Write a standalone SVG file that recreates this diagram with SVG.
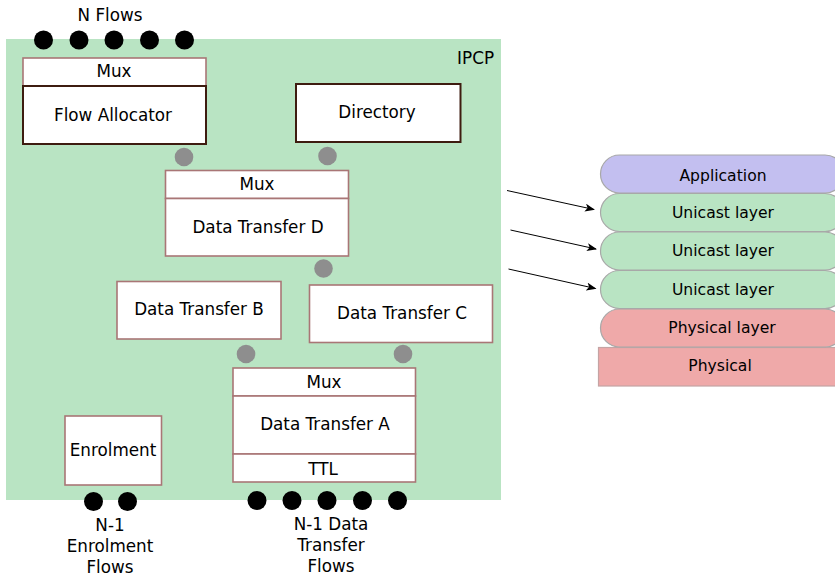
<svg xmlns="http://www.w3.org/2000/svg" width="835" height="577" viewBox="0 0 835 577">
<defs>
<style>
text{font-family:"DejaVu Sans","Liberation Sans",sans-serif;font-size:16.8px;fill:#000;text-anchor:middle}
.sm{font-size:15.6px}
.box{fill:#fff;stroke:#a97676;stroke-width:1.6}
.dark{fill:#fff;stroke:#3e1c10;stroke-width:2}
.port{fill:#8e8e8e}
.flow{fill:#000}
.pill{stroke:#a8a8a8;stroke-width:1.2}
.conn{stroke:#000;stroke-width:1;fill:none;marker-end:url(#ah)}
</style>
<marker id="ah" viewBox="0 0 10 8" refX="9" refY="4" markerWidth="10" markerHeight="8" markerUnits="userSpaceOnUse" orient="auto">
<path d="M0,0 L10,4 L0,8 L2.5,4 Z" fill="#000"/>
</marker>
</defs>
<rect id="ipcp" x="6" y="39" width="495" height="461" fill="#b9e4c3"/>
<text x="494" y="63.5" style="text-anchor:end">IPCP</text>

<g id="n-flows">
<text x="110" y="21">N Flows</text>
<circle class="flow" cx="43.5" cy="40" r="9.5"/>
<circle class="flow" cx="79" cy="40" r="9.5"/>
<circle class="flow" cx="114" cy="40" r="9.5"/>
<circle class="flow" cx="149.5" cy="40" r="9.5"/>
<circle class="flow" cx="184.5" cy="40" r="9.5"/>
</g>

<g id="flow-allocator">
<rect class="box" x="23" y="58" width="183" height="28"/>
<text x="114" y="77">Mux</text>
<rect class="dark" x="23" y="86" width="183" height="58"/>
<text x="113" y="121">Flow Allocator</text>
</g>

<g id="directory">
<rect class="dark" x="296" y="84" width="164.5" height="58"/>
<text x="377" y="118">Directory</text>
</g>

<g id="data-transfer-d">
<rect class="box" x="165.5" y="170.5" width="183" height="28"/>
<text x="257" y="190">Mux</text>
<rect class="box" x="165.5" y="198.5" width="183" height="57.5"/>
<text x="258" y="233">Data Transfer D</text>
</g>

<g id="data-transfer-b">
<rect class="box" x="117" y="281.5" width="164" height="57.5"/>
<text x="199" y="315">Data Transfer B</text>
</g>

<g id="data-transfer-c">
<rect class="box" x="309.5" y="285" width="183" height="57.5"/>
<text x="402" y="319">Data Transfer C</text>
</g>

<g id="data-transfer-a">
<rect class="box" x="233" y="368" width="182.5" height="28"/>
<text x="324" y="387.5">Mux</text>
<rect class="box" x="233" y="396" width="182.5" height="58"/>
<text x="325" y="430">Data Transfer A</text>
<rect class="box" x="233" y="454" width="182.5" height="28"/>
<text x="323" y="475">TTL</text>
</g>

<g id="enrolment">
<rect class="box" x="65" y="416" width="96.5" height="69"/>
<text x="113" y="456">Enrolment</text>
</g>

<g id="ports">
<circle class="port" cx="184" cy="157" r="9.3"/>
<circle class="port" cx="327.5" cy="156" r="9.3"/>
<circle class="port" cx="323.5" cy="268.5" r="9.3"/>
<circle class="port" cx="246" cy="354" r="9.3"/>
<circle class="port" cx="403" cy="354" r="9.3"/>
</g>

<g id="n-1-enrolment-flows">
<circle class="flow" cx="93.5" cy="501.5" r="9.5"/>
<circle class="flow" cx="127.5" cy="501.5" r="9.5"/>
<text x="110" y="531">N-1</text>
<text x="110" y="552">Enrolment</text>
<text x="110" y="573">Flows</text>
</g>

<g id="n-1-data-transfer-flows">
<circle class="flow" cx="257" cy="500.5" r="9.5"/>
<circle class="flow" cx="292" cy="500.5" r="9.5"/>
<circle class="flow" cx="327" cy="500.5" r="9.5"/>
<circle class="flow" cx="362.5" cy="500.5" r="9.5"/>
<circle class="flow" cx="397.5" cy="500.5" r="9.5"/>
<text x="331" y="530">N-1 Data</text>
<text x="331" y="551">Transfer</text>
<text x="331" y="572">Flows</text>
</g>

<g id="stack">
<g id="physical">
<rect x="598.5" y="347.5" width="245" height="38.5" fill="#efa9a9" stroke="#c4a4a4" stroke-width="1.2"/>
<text class="sm" x="720" y="370.5">Physical</text>
</g>
<g id="physical-layer">
<rect class="pill" x="600.5" y="309" width="243.5" height="38" rx="19" ry="19" fill="#efa9a9"/>
<text class="sm" x="722" y="332.5">Physical layer</text>
</g>
<g id="unicast-3">
<rect class="pill" x="600.5" y="270.5" width="243.5" height="38" rx="19" ry="19" fill="#b9e4c3"/>
<text class="sm" x="723" y="294.5">Unicast layer</text>
</g>
<g id="unicast-2">
<rect class="pill" x="600.5" y="232" width="243.5" height="38" rx="19" ry="19" fill="#b9e4c3"/>
<text class="sm" x="723" y="256">Unicast layer</text>
</g>
<g id="unicast-1">
<rect class="pill" x="600.5" y="193.5" width="243.5" height="38" rx="19" ry="19" fill="#b9e4c3"/>
<text class="sm" x="723" y="218">Unicast layer</text>
</g>
<g id="application">
<rect class="pill" x="600.5" y="155" width="243.5" height="38" rx="19" ry="19" fill="#c3bff0"/>
<text class="sm" x="723" y="181">Application</text>
</g>
</g>

<g id="connectors">
<line class="conn" x1="507" y1="190.5" x2="594" y2="209.5"/>
<line class="conn" x1="510.5" y1="230" x2="596" y2="249"/>
<line class="conn" x1="508.5" y1="269" x2="595.5" y2="288.5"/>
</g>
</svg>
